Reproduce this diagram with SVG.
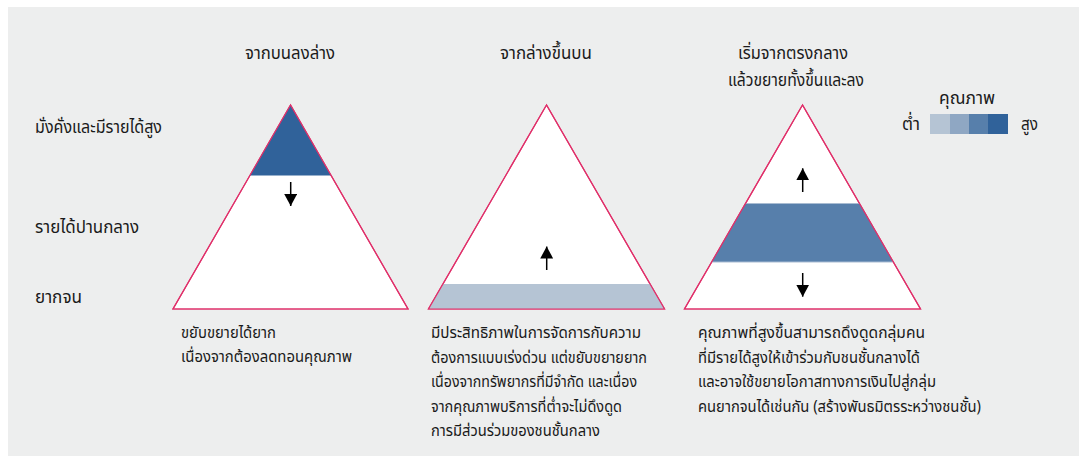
<svg xmlns="http://www.w3.org/2000/svg" width="1086" height="456" viewBox="0 0 1086 456">
<style>
text{font-family:"Noto Sans Thai","Noto Sans","DejaVu Sans",sans-serif;font-size:15.5px;fill:#1a1a1a}
.h{text-anchor:middle;font-size:18px}
.l{font-size:17px}
.g{font-size:18px}
.tri{fill:#fff;stroke:#e0306a;stroke-width:1.2}
.ar{stroke:#000;stroke-width:1.5;fill:none}
</style>
<defs>
<marker id="ah" viewBox="0 0 12 13" refX="12" refY="6.5" markerWidth="12" markerHeight="13" markerUnits="userSpaceOnUse" orient="auto"><path d="M0,0 L12,6.5 L0,13 Z" fill="#000"/></marker>
<clipPath id="c1"><polygon points="290.5,105 173,309 408,309"/></clipPath>
<clipPath id="c2"><polygon points="546.5,105 428.5,309 664.5,309"/></clipPath>
<clipPath id="c3"><polygon points="802.5,105 684.5,309 920.5,309"/></clipPath>
</defs>
<rect x="8" y="7" width="1071" height="449" fill="#edeeee"/>
<g id="labels-left">
<text class="l" x="35" y="133" textLength="127" lengthAdjust="spacingAndGlyphs">มั่งคั่งและมีรายได้สูง</text>
<text class="l" x="35" y="233" textLength="104" lengthAdjust="spacingAndGlyphs">รายได้ปานกลาง</text>
<text class="l" x="35" y="303" textLength="47" lengthAdjust="spacingAndGlyphs">ยากจน</text>
</g>
<g id="tri1">
<text class="h" x="290" y="59" textLength="90" lengthAdjust="spacingAndGlyphs">จากบนลงล่าง</text>
<polygon class="tri" points="290.5,105 173,309 408,309"/>
<rect x="170" y="100" width="240" height="75.5" fill="#30629a" clip-path="url(#c1)"/>
<polygon points="290.5,105 173,309 408,309" fill="none" stroke="#e0306a" stroke-width="1.2"/>
<text x="181" y="338" textLength="95" lengthAdjust="spacingAndGlyphs">ขยับขยายได้ยาก</text>
<text x="181" y="362" textLength="171" lengthAdjust="spacingAndGlyphs">เนื่องจากต้องลดทอนคุณภาพ</text>
</g>
<g id="tri2">
<text class="h" x="546" y="59" textLength="92" lengthAdjust="spacingAndGlyphs">จากล่างขึ้นบน</text>
<polygon class="tri" points="546.5,105 428.5,309 664.5,309"/>
<rect x="420" y="284" width="250" height="26" fill="#b5c4d4" clip-path="url(#c2)"/>
<polygon points="546.5,105 428.5,309 664.5,309" fill="none" stroke="#e0306a" stroke-width="1.2"/>
<text x="431" y="338" textLength="210" lengthAdjust="spacingAndGlyphs">มีประสิทธิภาพในการจัดการกับความ</text>
<text x="431" y="362.5" textLength="216" lengthAdjust="spacingAndGlyphs">ต้องการแบบเร่งด่วน แต่ขยับขยายยาก</text>
<text x="431" y="387" textLength="206" lengthAdjust="spacingAndGlyphs">เนื่องจากทรัพยากรที่มีจำกัด และเนื่อง</text>
<text x="431" y="411.5" textLength="191" lengthAdjust="spacingAndGlyphs">จากคุณภาพบริการที่ต่ำจะไม่ดึงดูด</text>
<text x="431" y="436" textLength="169" lengthAdjust="spacingAndGlyphs">การมีส่วนร่วมของชนชั้นกลาง</text>
</g>
<g id="tri3">
<text class="h" x="793" y="59" textLength="110" lengthAdjust="spacingAndGlyphs">เริ่มจากตรงกลาง</text>
<text class="h" x="796" y="86" textLength="136" lengthAdjust="spacingAndGlyphs">แล้วขยายทั้งขึ้นและลง</text>
<polygon class="tri" points="802.5,105 684.5,309 920.5,309"/>
<rect x="680" y="203.5" width="250" height="58.5" fill="#577fab" stroke="#a9bcd2" stroke-width="1" clip-path="url(#c3)"/>
<polygon points="802.5,105 684.5,309 920.5,309" fill="none" stroke="#e0306a" stroke-width="1.2"/>
<text x="698" y="338" textLength="227" lengthAdjust="spacingAndGlyphs">คุณภาพที่สูงขึ้นสามารถดึงดูดกลุ่มคน</text>
<text x="698" y="362.5" textLength="222" lengthAdjust="spacingAndGlyphs">ที่มีรายได้สูงให้เข้าร่วมกับชนชั้นกลางได้</text>
<text x="698" y="387" textLength="238" lengthAdjust="spacingAndGlyphs">และอาจใช้ขยายโอกาสทางการเงินไปสู่กลุ่ม</text>
<text x="698" y="411.5" textLength="283" lengthAdjust="spacingAndGlyphs">คนยากจนได้เช่นกัน (สร้างพันธมิตรระหว่างชนชั้น)</text>
</g>
<g id="legend">
<text class="h" x="967" y="104" textLength="56" lengthAdjust="spacingAndGlyphs">คุณภาพ</text>
<text class="g" x="902" y="130" textLength="18" lengthAdjust="spacingAndGlyphs">ต่ำ</text>
<rect x="930" y="114" width="20" height="20" fill="#b5c4d4"/>
<rect x="950" y="114" width="19" height="20" fill="#8fa7c3"/>
<rect x="969" y="114" width="19" height="20" fill="#577fab"/>
<rect x="988" y="114" width="20" height="20" fill="#30629a"/>
<text class="g" x="1021" y="130" textLength="17" lengthAdjust="spacingAndGlyphs">สูง</text>
</g>
<g id="connectors">
<line class="ar" x1="290.7" y1="182" x2="290.7" y2="206" marker-end="url(#ah)"/>
<line class="ar" x1="546.7" y1="270" x2="546.7" y2="246.5" marker-end="url(#ah)"/>
<line class="ar" x1="802.7" y1="192" x2="802.7" y2="168.3" marker-end="url(#ah)"/>
<line class="ar" x1="802.7" y1="273" x2="802.7" y2="296.7" marker-end="url(#ah)"/>
</g>
</svg>
